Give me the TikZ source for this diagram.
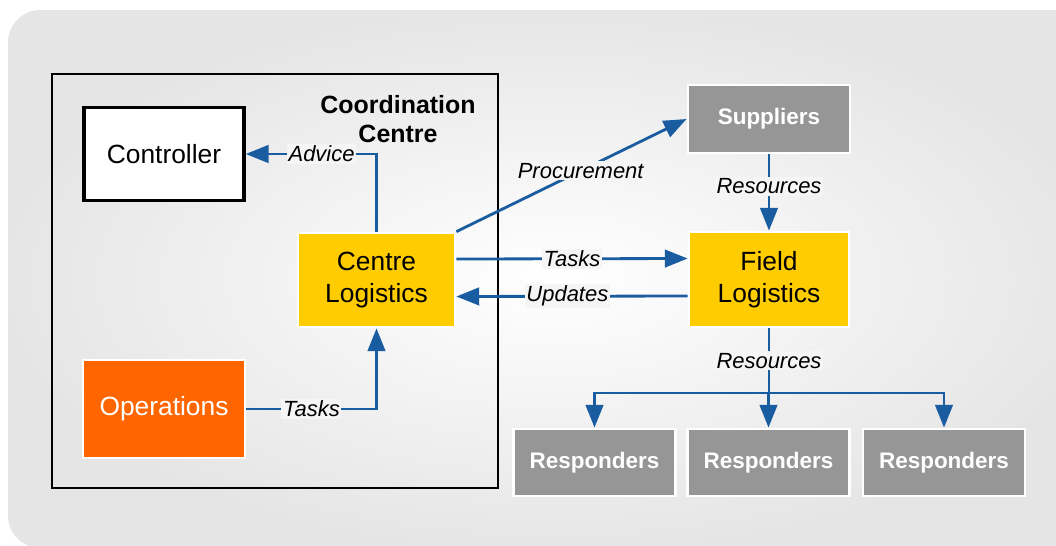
\documentclass[tikz,border=0pt]{standalone}
\usepackage{fontspec}
\setmainfont{Liberation Sans}
\usetikzlibrary{arrows.meta}
\definecolor{flowblue}{RGB}{26,92,160}
\definecolor{logyellow}{RGB}{255,204,0}
\definecolor{oporange}{RGB}{255,102,0}
\definecolor{boxgrey}{RGB}{150,150,150}

\begin{document}
\begin{tikzpicture}[x=0.02cm,y=-0.02cm,
    unit/.style={draw=white,line width=1.6pt,minimum width=3.2cm,minimum height=1.9cm,
                 align=center,inner sep=0pt,font=\fontsize{15}{18}\selectfont},
    greybox/.style={unit,fill=boxgrey,text=white,minimum width=3.24cm,minimum height=1.34cm,
                 font=\bfseries\fontsize{12.8}{15}\selectfont},
    flow/.style={draw=flowblue,line width=1.6pt,-{Triangle[length=13pt,width=10pt]}},
    lbl/.style={fill=white!92!gray,text=black,inner sep=1pt,font=\itshape\fontsize{12.5}{15}\selectfont}]
  \useasboundingbox (0,0) rectangle (1056,545);
  % background panel
  \shade[rounded corners=0.65cm,inner color=white,outer color=gray!20] (8,10) rectangle (1100,548);
  \coordinate (split) at (769,393);
  % coordination centre frame
  \draw[line width=1.6pt] (52,74) rectangle (498,488);
  \node[font=\bfseries\fontsize{14.2}{16.5}\selectfont,align=center] (cctitle) at (398,119) {Coordination\\Centre};
  \node[unit,draw=black,line width=2pt,fill=white,minimum width=3.2cm,minimum height=1.86cm] (ctrl) at (164,154) {Controller};
  \node[unit,fill=logyellow,minimum width=3.14cm,minimum height=1.88cm] (centre) at (376.5,280) {Centre\\Logistics};
  \node[unit,fill=oporange,text=white,minimum width=3.24cm,minimum height=1.96cm] (ops) at (164,409) {Operations};
  % outside the centre
  \node[greybox,minimum height=1.36cm] (supp) at (769,119) {Suppliers};
  \node[unit,fill=logyellow] (field) at (769,279.5) {Field\\Logistics};
  \foreach \i/\x in {1/594.5,2/768.5,3/944}{%
    \node[greybox] (resp\i) at (\x,462.5) {Responders};
  }
  % flows
  \draw[flow] (centre.north) |- node[lbl,pos=0.71] {Advice} (ctrl.east);
  \draw[flow] (ops.east) -| node[lbl,pos=0.25] {Tasks} (centre.south);
  \draw[flow] (centre.north east) -- node[lbl,pos=0.54] {Procurement} (supp.west);
  \draw[flow] ([yshift=0.42cm]centre.east) -- node[lbl,pos=0.5] {Tasks} ([yshift=0.42cm]field.west);
  \draw[flow] ([yshift=-0.33cm]field.west) -- node[lbl,pos=0.52] {Updates} ([yshift=-0.33cm]centre.east);
  \draw[flow] (supp.south) -- node[lbl,pos=0.42] {Resources} (field.north);
  \draw[flowblue,line width=1.6pt] (field.south) -- node[lbl] {Resources} (split);
  \foreach \i in {1,2,3}{%
    \draw[flow] (split) -| (resp\i.north);
  }
\end{tikzpicture}
\end{document}
